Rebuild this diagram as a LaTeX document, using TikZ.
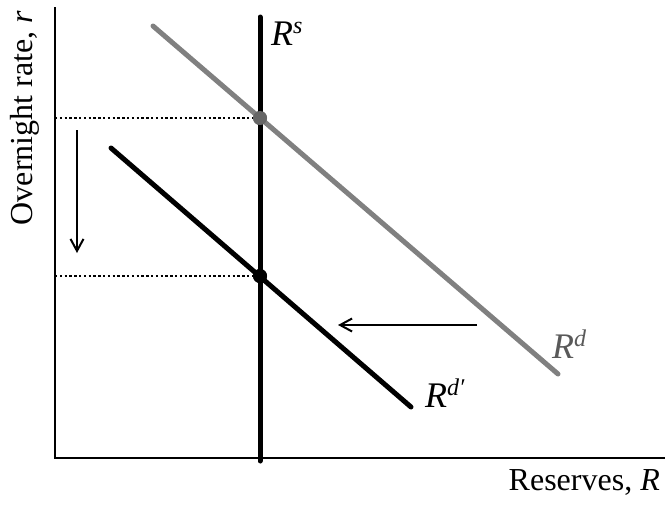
\documentclass[tikz,border=0pt]{standalone}
\usepackage{fontspec}
\setmainfont{Liberation Serif}
\usetikzlibrary{arrows.meta,positioning}
\definecolor{demgray}{gray}{0.5}
\definecolor{ptgray}{gray}{0.4}
\definecolor{labgray}{gray}{0.35}
\newcommand{\rlab}[1]{\fontsize{36}{36}\selectfont\itshape R\raisebox{12pt}{\fontsize{24}{24}\selectfont #1}}

\begin{document}
\begin{tikzpicture}[
  x=1pt, y=-1pt,
  axis/.style={line width=2.6pt},
  curve/.style={line width=5pt, line cap=round},
  guide/.style={line width=2.4pt, dash pattern=on 2.4pt off 2.4pt},
  arr/.style={line width=2pt, -{Straight Barb[length=12pt,width=13pt]}},
  lab/.style={inner sep=0pt, font=\fontsize{32}{32}\selectfont},
  dot/.style={circle, inner sep=0pt, minimum size=14pt}
]
\useasboundingbox (0,0) rectangle (668,507);
\coordinate (O) at (55,458);
\coordinate (ytop) at (55,7);
\coordinate (xend) at (665,458);
\coordinate (r1) at (55,118);
\coordinate (r2) at (55,276);
\coordinate (rstop) at (260,17);
\coordinate (rsbot) at (260,461);
\coordinate (rdtop) at (153,26);
\coordinate (rdbot) at (558,374);
\coordinate (rdptop) at (111,148);
\coordinate (rdpbot) at (411,407);
\coordinate (dn1) at (77,130);
\coordinate (dn2) at (77,253);
\coordinate (lf1) at (477,325);
\coordinate (lf2) at (338,325);
% axes
\draw[axis] (ytop) -- (O) -- (xend);
\node[lab, rotate=90] (ylab) at (25,118) {Overnight rate, \textit{r}};
\node[lab, anchor=base east] (xlab) at (660,490) {Reserves, \textit{R}};
% equilibria
\node[dot, fill=ptgray] (e1) at (260,118) {};
\node[dot, fill=black] (e2) at (260,276) {};
\draw[guide] (r1) -- (e1.center);
\draw[guide] (r2) -- (e2.center);
% curves
\draw[curve, demgray] (rdtop) -- (rdbot);
\draw[curve] (rdptop) -- (rdpbot);
\draw[curve] (rstop) -- (rsbot);
\node[dot, fill=ptgray] at (e1) {};
\node[dot, fill=black] at (e2) {};
\node[inner sep=0pt, anchor=base west] (rslab) at (271,45) {\rlab{s}};
\node[inner sep=0pt, anchor=base west, text=labgray] (rdlab) at (552,358) {\rlab{d}};
\node[inner sep=0pt, anchor=base west] (rdplab) at (425,407) {\rlab{d\char"2032}};
% shifts
\draw[arr] (dn1) -- (dn2);
\draw[arr] (lf1) -- (lf2);
\end{tikzpicture}
\end{document}
